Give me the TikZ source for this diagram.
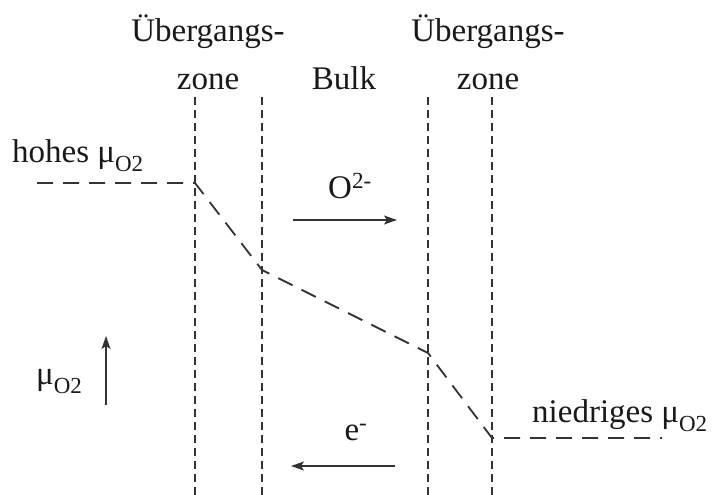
\documentclass[tikz,border=0pt]{standalone}
\usepackage{fontspec}
\setmainfont{Liberation Serif}
\usetikzlibrary{arrows.meta}
\newcommand{\subOt}{\raisebox{-0.3em}{\fontsize{23}{23}\selectfont O2}}
\begin{document}
\begin{tikzpicture}[x=1pt,y=-1pt,
  lbl/.style={inner sep=0pt,font=\fontsize{33}{48}\selectfont,text=black!90},
  zoneline/.style={draw=black!80,line width=1.8pt,dash pattern=on 8pt off 5pt},
  potline/.style={draw=black!80,line width=1.8pt,dash pattern=on 16pt off 10pt},
  flux/.style={draw=black!80,line width=1.5pt,-{Stealth[length=13pt,width=9pt,inset=3pt]}}]
\useasboundingbox (0,0) rectangle (718,495);
% zone boundaries
\foreach \n/\x in {l1/195,l2/262,l3/428,l4/492}{
  \coordinate (\n t) at (\x,97);
  \coordinate (\n b) at (\x,495);
  \draw[zoneline] (\n t) -- (\n b);
}
% potential profile
\coordinate (p0) at (37,183);
\coordinate (p1) at (195,183);
\coordinate (p2) at (262,270);
\coordinate (p3) at (428,353);
\coordinate (p4) at (492,438);
\coordinate (p5) at (662,438);
\draw[potline] (p0) -- (p1) -- (p2) -- (p3) -- (p4) -- (p5);
% labels top
\node[lbl,align=center] (z1) at (208,52) {Übergangs-\\zone};
\node[lbl,align=center] (z2) at (488,52) {Übergangs-\\zone};
\node[lbl] (bulk) at (344,78) {Bulk};
% side labels
\node[lbl,anchor=base west] (hoch) at (12,162) {hohes μ\subOt};
\node[lbl,anchor=base west] (nied) at (532,422) {niedriges μ\subOt};
\node[lbl,anchor=base west] (mu) at (36,384) {μ\subOt};
% arrows
\coordinate (mua) at (106,405);
\coordinate (mub) at (106,336);
\draw[flux] (mua) -- (mub);
\node[lbl,anchor=base] (ox) at (350,198) {O\textsuperscript{2-}};
\coordinate (oxa) at (293,220);
\coordinate (oxb) at (397,220);
\draw[flux] (oxa) -- (oxb);
\node[lbl,anchor=base] (el) at (356,440) {e\textsuperscript{-}};
\coordinate (ela) at (395,466);
\coordinate (elb) at (291,466);
\draw[flux] (ela) -- (elb);
\end{tikzpicture}
\end{document}
